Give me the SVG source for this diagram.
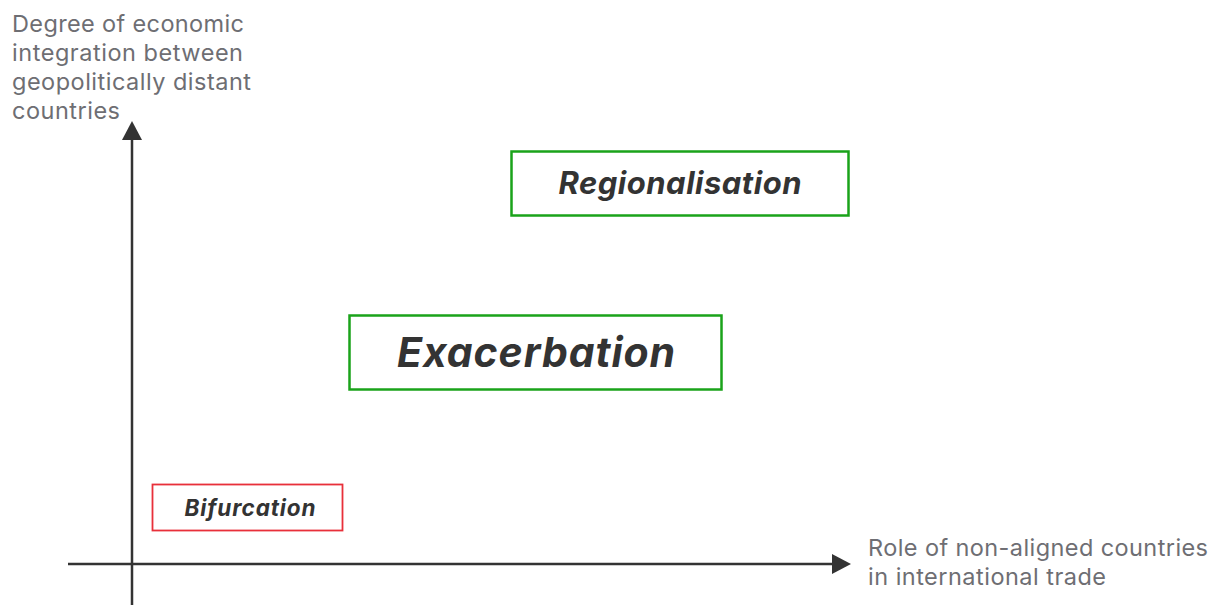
<svg xmlns="http://www.w3.org/2000/svg" width="1210" height="605" viewBox="0 0 1210 605">
<style>
.axis{stroke:#333;stroke-width:2.5;fill:none}
.head{fill:#333}
.lbl{font-family:Inter,"Liberation Sans",sans-serif;font-size:23.5px;fill:#6e6e73}
.box{fill:#fff;stroke-width:2.5}
.g{stroke:#1aa31a}
.r{stroke:#e8303a;stroke-width:1.8}
.t{font-family:Inter,"Liberation Sans",sans-serif;font-weight:700;font-style:italic;fill:#333;text-anchor:middle}
</style>
<rect width="1210" height="605" fill="#fff"/>
<g id="connectors">
<line class="axis" x1="132" y1="605" x2="132" y2="138"/>
<polygon class="head" points="132,121 142,140 122,140"/>
<line class="axis" x1="68" y1="564" x2="834" y2="564"/>
<polygon class="head" points="851,564 832,554 832,574"/>
</g>
<g id="y-label">
<text class="lbl" x="12" y="32" textLength="232" lengthAdjust="spacing">Degree of economic</text>
<text class="lbl" x="12" y="61" textLength="231" lengthAdjust="spacing">integration between</text>
<text class="lbl" x="12" y="90" textLength="239" lengthAdjust="spacing">geopolitically distant</text>
<text class="lbl" x="12" y="119" textLength="108" lengthAdjust="spacing">countries</text>
</g>
<g id="x-label">
<text class="lbl" x="868" y="556" textLength="340" lengthAdjust="spacing">Role of non-aligned countries</text>
<text class="lbl" x="868" y="585" textLength="238" lengthAdjust="spacing">in international trade</text>
</g>
<g id="regionalisation">
<rect class="box g" x="511.5" y="151.5" width="337" height="64"/>
<text class="t" x="680" y="194" font-size="31" textLength="243" lengthAdjust="spacing">Regionalisation</text>
</g>
<g id="exacerbation">
<rect class="box g" x="349.5" y="315.5" width="372" height="74"/>
<text class="t" x="536" y="367" font-size="41" textLength="278" lengthAdjust="spacing">Exacerbation</text>
</g>
<g id="bifurcation">
<rect class="box r" x="152.5" y="484.5" width="190" height="46"/>
<text class="t" x="250" y="516" font-size="22.5" textLength="131" lengthAdjust="spacing">Bifurcation</text>
</g>
</svg>
